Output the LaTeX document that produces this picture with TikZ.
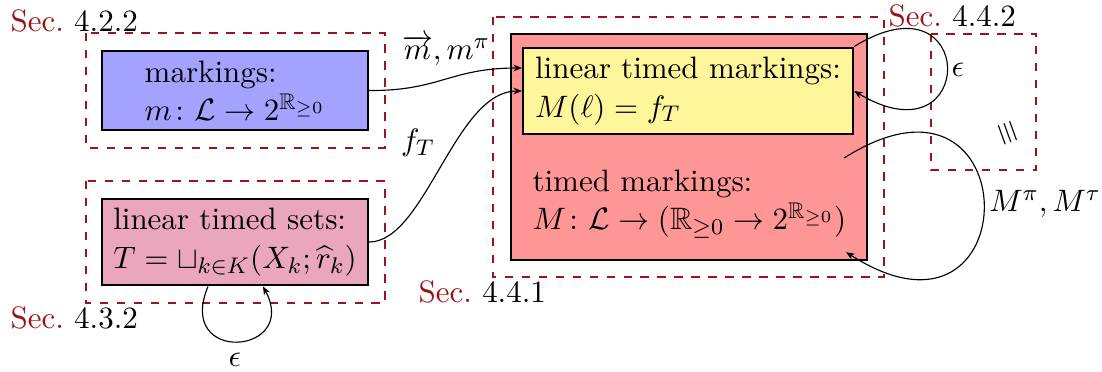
\documentclass[11pt,tikz,border=0pt]{standalone}
\usepackage{amsmath,amssymb}
\usetikzlibrary{arrows.meta,calc}
\definecolor{secred}{RGB}{155,20,25}
\definecolor{boxblue}{RGB}{163,163,255}
\definecolor{boxpink}{RGB}{233,166,188}
\definecolor{boxred}{RGB}{255,150,150}
\definecolor{boxyellow}{RGB}{255,245,155}
\begin{document}
\begin{tikzpicture}[x=0.3534pt,y=-0.3534pt,
  mapbox/.style={draw, thick, align=left, inner sep=3.33pt},
  secbox/.style={draw=secred, dashed},
  seclabel/.style={anchor=base west, inner sep=0pt},
  conn/.style={-{Stealth[length=3pt,width=2.4pt]}},
  lbl/.style={inner sep=0pt}]
\useasboundingbox (0,0) rectangle (1102,371);

% section frames
\draw[secbox] (86,33) rectangle (385,148);
\draw[secbox] (86,181) rectangle (385,303);
\draw[secbox] (493,17) rectangle (884,277);
\draw[secbox] (931,34) rectangle (1036,170);

\node[seclabel] (sa) at (10,31) {\textcolor{secred}{Sec.}\ 4.2.2};
\node[seclabel] (sb) at (10,328) {\textcolor{secred}{Sec.}\ 4.3.2};
\node[seclabel] (sc) at (418,302) {\textcolor{secred}{Sec.}\ 4.4.1};
\node[seclabel] (sd) at (888,26) {\textcolor{secred}{Sec.}\ 4.4.2};

% boxes
\node[mapbox, fill=boxblue, minimum width=94pt] (blue) at (235,90.5)
  {markings:\\ $m\colon \mathcal{L}\to 2^{\mathbb{R}_{\geq 0}}$};
\node[mapbox, fill=boxpink, minimum width=94pt] (pink) at (235,242)
  {linear timed sets:\\ $T=\sqcup_{k\in K}(X_k;\widehat{r}_k)$};
\node[draw, thick, fill=boxred, minimum width=125.8pt, minimum height=79.9pt] (red) at (689,147) {};
\node[mapbox, fill=boxyellow, minimum width=116.6pt] (yellow) at (688,91)
  {linear timed markings:\\ $M(\ell)=f_T$};
\node[align=left, anchor=west, inner sep=0pt] (timed) at (532,204)
  {timed markings:\\ $M\colon \mathcal{L}\to(\mathbb{R}_{\geq 0}\to 2^{\mathbb{R}_{\geq 0}})$};

% connectors
\draw[conn] (blue.east) .. controls (440,91) and (450,68) .. ($(yellow.west)+(0,-23)$);
\draw[conn] (pink.east) .. controls (425,242) and (455,91) .. (yellow.west);
\draw[conn] ($(pink.south)+(-27,0)$) .. controls (175,365) and (300,355) .. ($(pink.south)+(28,0)$);
\draw[conn] (yellow.north east) .. controls (978,-30) and (978,165) .. (yellow.east);
\draw[conn] ($(red.east)+(-24,11)$) .. controls (1030,40) and (1030,370) .. ($(red.south east)+(-22,-9)$);

% labels
\node[lbl] (lm) at (446,50) {$\overrightarrow{m}, m^\pi$};
\node[lbl] (lf) at (418,143) {$f_T$};
\node[lbl] (le1) at (958,70) {$\epsilon$};
\node[lbl] (le2) at (235,360) {$\epsilon$};
\node[lbl] (lM) at (1045,204) {$M^\pi, M^\tau$};
\node[lbl, rotate=-70] (eq) at (1007,133) {$\equiv$};
\end{tikzpicture}
\end{document}
